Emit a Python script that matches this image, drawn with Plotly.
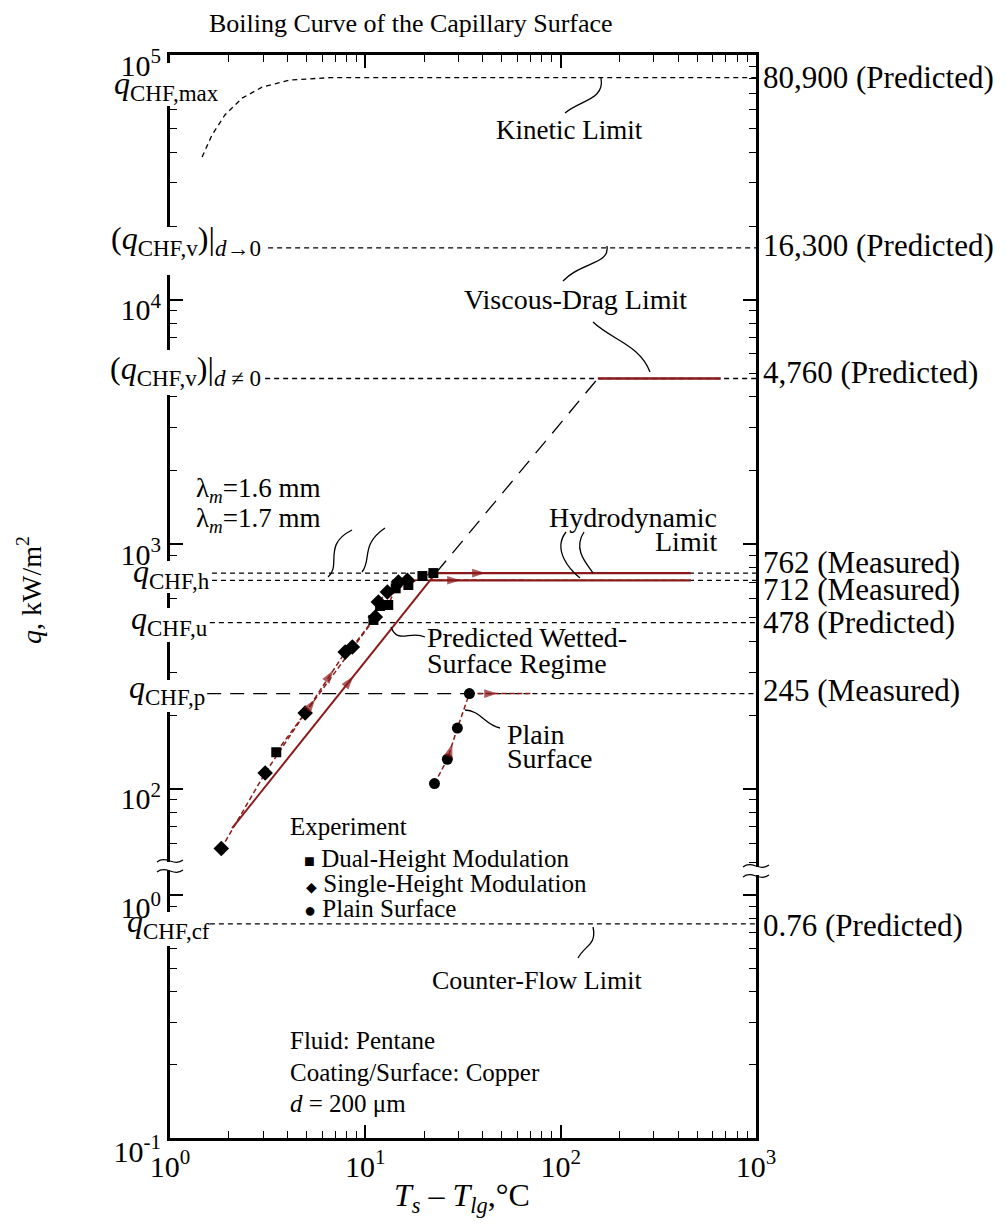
import math

import plotly.graph_objects as go

SERIF = "Liberation Serif"
RED = "#8b1a1a"

# experimental boiling data: wall superheat (°C) vs heat flux (kW/m²)
dual_dT = [3.50, 11.0, 11.9, 13.1, 14.3, 16.6, 19.6, 22.3]
dual_q = [141, 490, 559, 564, 660, 681, 741, 762]
single_dT = [1.83, 3.07, 4.92, 7.89, 8.58, 11.25, 11.66, 12.97, 14.77, 16.42]
single_q = [57, 116, 204, 362, 380, 504, 580, 638, 700, 712]
plain_dT = [22.6, 26.3, 29.6, 34.1]
plain_q = [105, 132, 177, 245]

# dashed continuation of each curve once CHF is reached
dual_chf_dT = [22.3, 74.5]
single_chf_dT = [16.4, 67.7]
plain_chf_dT = [34.1, 70.0]

# predicted wetted-surface regime and its extension
pred_dT = [2.08, 22.95]
pred_q = [69, 762]
pred_ext_dT = [22.95, 155]
pred_ext_q = [762, 4760]
hydro_q = [762, 712]
hydro_dT = [[22.95, 464], [21.45, 464]]
visc_red_dT = [155, 660]
visc_red_q = 4760

# kinetic limit curve
kin_dT = [1.46, 1.64, 1.91, 2.34, 2.96, 4.12, 6.6, 1000]
kin_q = [38300, 47100, 56900, 66700, 74000, 79100, 80900, 80900]

# CHF limit lines (upper panel) and where each starts
chf_q = [16300, 4760, 762, 712, 478]
chf_start = [3.18, 3.07, 1.64, 1.64, 1.60]
chf_p = 245
chf_p_start = 1.55
chf_cf = 0.76
chf_cf_start = 1.60

# arrow locations along the curves (°C)
dual_arrow = 5.54
single_arrow = 6.85
pred_arrow = 8.68
plain_arrow = 27.9
dual_chf_arrow = 41.2
single_chf_arrow = 30.7
plain_chf_arrow = 47.5

# figure geometry (px); the page adds an 8px body margin
OFF = 8
W, H = 1006 - OFF, 1228 - OFF
ML, MR, MT, MB = 170 - OFF, 250, 55 - OFF, 90
PW, PH = W - ML - MR, H - MT - MB
BREAK_PX = 867
LOW_FRAC = (1138 - BREAK_PX) / PH


def P(px, py):
    # page pixel -> paper coordinates
    return (px - 170) / PW, (1138 - py) / PH


def interp(xs, ys, xa):
    lx = [math.log10(v) for v in xs]
    ly = [math.log10(v) for v in ys]
    la = math.log10(xa)
    for i in range(len(lx) - 1):
        if lx[i] <= la <= lx[i + 1]:
            t = (la - lx[i]) / (lx[i + 1] - lx[i])
            return 10 ** (ly[i] + t * (ly[i + 1] - ly[i])), xs[i], ys[i]
    return ys[-1], xs[-2], ys[-2]


fig = go.Figure()


def up(**kw):
    fig.add_trace(go.Scatter(xaxis="x2", yaxis="y2", showlegend=False, hoverinfo="skip", **kw))


def dash_line(dash="5px,4px", width=1.3, color="black"):
    return dict(color=color, width=width, dash=dash)


# black limit lines
up(x=kin_dT, y=kin_q, mode="lines", line=dash_line())
for q, x0 in zip(chf_q, chf_start):
    up(x=[x0, 1000], y=[q, q], mode="lines", line=dash_line())
up(x=[chf_p_start, plain_chf_dT[0]], y=[chf_p, chf_p], mode="lines", line=dash_line("14px,9px"))
up(x=[plain_chf_dT[0], 1000], y=[chf_p, chf_p], mode="lines", line=dash_line())
fig.add_trace(go.Scatter(x=[chf_cf_start, 1000], y=[chf_cf, chf_cf], mode="lines",
                         line=dash_line(), showlegend=False, hoverinfo="skip"))
up(x=pred_ext_dT, y=pred_ext_q, mode="lines", line=dash_line("16px,10px"))

# predicted (red solid)
up(x=pred_dT, y=pred_q, mode="lines", line=dict(color=RED, width=2))
for q, xs in zip(hydro_q, hydro_dT):
    up(x=xs, y=[q, q], mode="lines", line=dict(color=RED, width=2.2))
up(x=visc_red_dT, y=[visc_red_q] * 2, mode="lines", line=dict(color=RED, width=2.5))

# experimental red dashed paths
red_dash = dash_line("5px,3px", 1.5, RED)
up(x=dual_dT, y=dual_q, mode="lines", line=red_dash)
up(x=single_dT, y=single_q, mode="lines", line=red_dash)
up(x=plain_dT, y=plain_q, mode="lines", line=red_dash)
up(x=dual_chf_dT, y=[dual_q[-1]] * 2, mode="lines", line=red_dash)
up(x=single_chf_dT, y=[single_q[-1]] * 2, mode="lines", line=red_dash)
up(x=plain_chf_dT, y=[plain_q[-1]] * 2, mode="lines", line=red_dash)

# markers
up(x=dual_dT, y=dual_q, mode="markers", marker=dict(symbol="square", size=10, color="black"))
up(x=single_dT, y=single_q, mode="markers", marker=dict(symbol="diamond", size=12, color="black"))
up(x=plain_dT, y=plain_q, mode="markers", marker=dict(symbol="circle", size=11, color="black"))

# arrow heads
for xs, ys, xa in [
    (dual_dT, dual_q, dual_arrow),
    (single_dT, single_q, single_arrow),
    (pred_dT, pred_q, pred_arrow),
    (plain_dT, plain_q, plain_arrow),
    (dual_chf_dT, [dual_q[-1]] * 2, dual_chf_arrow),
    (single_chf_dT, [single_q[-1]] * 2, single_chf_arrow),
    (plain_chf_dT, [plain_q[-1]] * 2, plain_chf_arrow),
]:
    ya, xp, yp = interp(xs, ys, xa)
    up(x=[xp, xa], y=[yp, ya], mode="markers",
       marker=dict(symbol="arrow", size=[0, 14], color=RED, angleref="previous", line=dict(width=0)))

# axes
minor_x = [m * 10 ** e for e in range(0, 3) for m in range(2, 10)]
minor_up = [m * 10 ** e for e in range(1, 5) for m in range(2, 10)]
minor_lo = [m * 10 ** e for e in (-1, 0) for m in range(2, 10)]


def axis(**kw):
    base = dict(type="log", showline=True, linewidth=3, linecolor="black", ticks="inside",
                ticklen=13, tickwidth=1.5, tickcolor="black", showgrid=False, zeroline=False,
                automargin=False, tickfont=dict(family=SERIF, size=30, color="black"))
    base.update(kw)
    return base


def minor(vals):
    return dict(tickmode="array", tickvals=vals, ticks="inside", ticklen=7, tickwidth=1.3,
                tickcolor="black", showgrid=False)


fig.update_layout(
    width=W, height=H,
    margin=dict(l=ML, r=MR, t=MT, b=MB),
    plot_bgcolor="white", paper_bgcolor="white",
    showlegend=False,
    xaxis=axis(range=[0, 3], anchor="y", side="bottom", tickvals=[1, 10, 100, 1000],
               ticktext=[f"10<sup>{e}</sup>" for e in range(4)], minor=minor(minor_x)),
    xaxis2=axis(range=[0, 3], anchor="y2", side="top", matches="x", showticklabels=False,
                tickvals=[1, 10, 100, 1000], minor=minor(minor_x)),
    yaxis=axis(domain=[0, LOW_FRAC], range=[-1, 0.115], anchor="x", mirror="allticks",
               tickvals=[0.1, 1], ticktext=["10<sup>-1</sup>", "10<sup>0</sup>"],
               ticklabelshift=13, minor=minor(minor_lo)),
    yaxis2=axis(domain=[LOW_FRAC, 1], range=[1.68, 5.0005], anchor="x2", mirror="allticks",
                tickvals=[1e2, 1e3, 1e4, 1e5], ticktext=[f"10<sup>{e}</sup>" for e in range(2, 6)],
                ticklabelshift=10, minor=minor(minor_up)),
)

# text
anns = []


def label(text, px, py, size=28, anchor="left", angle=0):
    x, y = P(px, py)
    anns.append(dict(text=text, x=x, y=y, xref="paper", yref="paper", xanchor=anchor,
                     yanchor="middle", showarrow=False, textangle=angle, borderpad=0,
                     font=dict(family=SERIF, size=size, color="black")))


def sub(t):
    return f"<sub><span style='font-size:23px'>{t}</span></sub>"


label("Boiling Curve of the Capillary Surface", 411, 23, 26, "center")
label("<i>q</i>, kW/m<sup>2</sup>", 30, 590, 28, "center", angle=-90)
label("<i>T<sub>s</sub></i> – <i>T<sub>lg</sub></i>,°C", 462, 1197, 32, "center")

# left side limit labels, with the gap they cut in the axis line
shapes = []
for text, px, py, gap in [
    ("<i>q</i>" + sub("CHF,max"), 220, 86, (63, 106)),
    ("(<i>q</i>" + sub("CHF,v") + ")|" + sub("<i>d</i>→0"), 262, 240, (227, 275)),
    ("(<i>q</i>" + sub("CHF,v") + ")|" + sub("<i>d</i> ≠ 0"), 262, 370, (350, 395)),
    ("<i>q</i>" + sub("CHF,h"), 211, 573, (561, 593)),
    ("<i>q</i>" + sub("CHF,u"), 209, 620, (608, 642)),
    ("<i>q</i>" + sub("CHF,p"), 206, 689, (680, 712)),
    ("<i>q</i>" + sub("CHF,cf"), 211, 923, (912, 946)),
]:
    label(text, px, py, 32, "right")
    x0, y0 = P(164, gap[1])
    x1, y1 = P(177, gap[0])
    shapes.append(dict(type="rect", x0=x0, x1=x1, y0=y0, y1=y1, xref="paper", yref="paper",
                       fillcolor="white", line=dict(width=0)))

# right side values
for text, py in [
    ("80,900 (Predicted)", 77), ("16,300 (Predicted)", 245), ("4,760 (Predicted)", 372),
    ("762 (Measured)", 562), ("712 (Measured)", 590), ("478 (Predicted)", 622),
    ("245 (Measured)", 690), ("0.76 (Predicted)", 925),
]:
    label(text, 762, py, 31)

label("Kinetic Limit", 569, 130, 27, "center")
label("Viscous-Drag Limit", 575, 300, 28, "center")
label("Hydrodynamic", 718, 517, 28, "right")
label("Limit", 718, 541, 28, "right")
label("λ<sub><i>m</i></sub>=1.6 mm", 195, 490, 27)
label("λ<sub><i>m</i></sub>=1.7 mm", 195, 520, 27)
label("Predicted Wetted-", 426, 637, 28)
label("Surface Regime", 426, 663, 28)
label("Plain", 506, 734, 28)
label("Surface", 506, 758, 28)
label("Experiment", 289, 826, 25)
label("<span style='font-size:18px'>■</span> Dual-Height Modulation", 303, 858, 25)
label("<span style='font-size:14px'>◆</span> Single-Height Modulation", 305, 883, 25)
label("<span style='font-size:20px'>●</span> Plain Surface", 303, 908, 25)
label("Counter-Flow Limit", 537, 980, 26, "center")
label("Fluid: Pentane", 289, 1040, 25)
label("Coating/Surface: Copper", 289, 1072, 25)
label("<i>d</i> = 200 μm", 289, 1103, 25)

fig.update_layout(annotations=anns)


# leader curves and axis breaks
def curve(pts, width=1.3):
    p = [P(*pt) for pt in pts]
    path = f"M{p[0][0]},{p[0][1]} C{p[1][0]},{p[1][1]} {p[2][0]},{p[2][1]} {p[3][0]},{p[3][1]}"
    shapes.append(dict(type="path", path=path, xref="paper", yref="paper",
                       line=dict(color="black", width=width)))


curve([(601, 78), (605, 100), (580, 100), (565, 113)])
curve([(607, 246), (610, 265), (580, 262), (563, 281)])
curve([(593, 322), (612, 340), (640, 345), (650, 372)])
curve([(352, 530), (322, 545), (342, 565), (328, 577)])
curve([(385, 528), (360, 545), (372, 560), (362, 572)])
curve([(566, 532), (552, 550), (570, 570), (580, 578)])
curve([(584, 532), (572, 550), (588, 565), (593, 573)])
curve([(391, 627), (398, 645), (410, 630), (425, 637)])
curve([(465, 710), (480, 710), (485, 725), (500, 728)])
curve([(593, 927), (597, 945), (585, 945), (578, 958)])

for cx, cy in [(170, 866), (756, 871)]:
    x0, y0 = P(cx - 12, cy - 4)
    x1, y1 = P(cx + 12, cy + 4)
    shapes.append(dict(type="rect", x0=x0, x1=x1, y0=y0, y1=y1, xref="paper", yref="paper",
                       fillcolor="white", line=dict(width=0)))
    for dy in (-5, 5):
        curve([(cx - 13, cy + dy + 1), (cx - 4, cy + dy - 6), (cx + 4, cy + dy + 6), (cx + 13, cy + dy - 1)], 1.2)

fig.update_layout(shapes=shapes)

fig.write_html("out.html")
